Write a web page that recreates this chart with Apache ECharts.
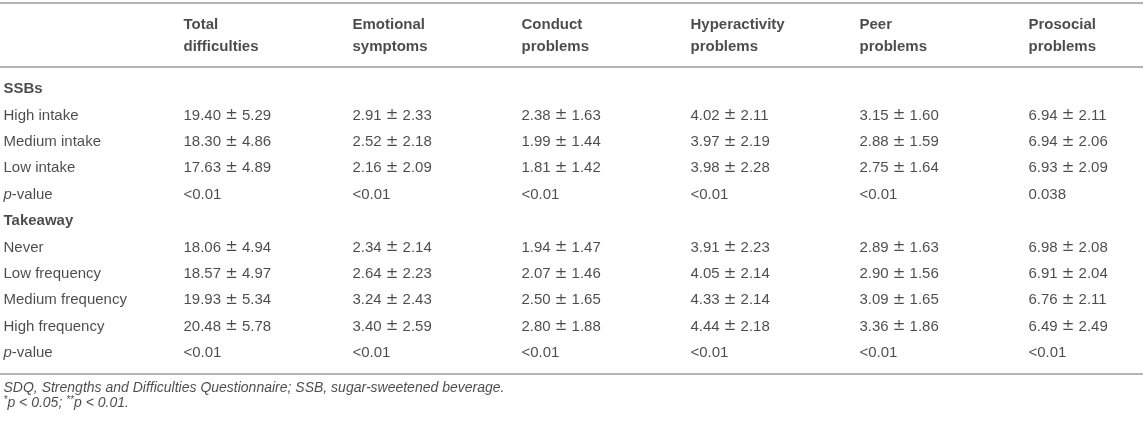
<!DOCTYPE html>
<html>
<head>
<meta charset="utf-8">
<script src="https://cdn.jsdelivr.net/npm/echarts@6/dist/echarts.min.js"></script>
<style>
	html, body { margin: 0; padding: 0; background: #fff; }
	#chart { width: 1143px; height: 421px; }
</style>
</head>
<body>
<div id="chart"></div>
<script>
// table content
var columns = ['Total\ndifficulties', 'Emotional\nsymptoms', 'Conduct\nproblems',
	'Hyperactivity\nproblems', 'Peer\nproblems', 'Prosocial\nproblems'];

var ssbGroups = ['High intake', 'Medium intake', 'Low intake'];
var ssbValues = [
	['19.40 ± 5.29', '2.91 ± 2.33', '2.38 ± 1.63', '4.02 ± 2.11', '3.15 ± 1.60', '6.94 ± 2.11'],
	['18.30 ± 4.86', '2.52 ± 2.18', '1.99 ± 1.44', '3.97 ± 2.19', '2.88 ± 1.59', '6.94 ± 2.06'],
	['17.63 ± 4.89', '2.16 ± 2.09', '1.81 ± 1.42', '3.98 ± 2.28', '2.75 ± 1.64', '6.93 ± 2.09']
];
var ssbPValues = ['<0.01', '<0.01', '<0.01', '<0.01', '<0.01', '0.038'];

var takeawayGroups = ['Never', 'Low frequency', 'Medium frequency', 'High frequency'];
var takeawayValues = [
	['18.06 ± 4.94', '2.34 ± 2.14', '1.94 ± 1.47', '3.91 ± 2.23', '2.89 ± 1.63', '6.98 ± 2.08'],
	['18.57 ± 4.97', '2.64 ± 2.23', '2.07 ± 1.46', '4.05 ± 2.14', '2.90 ± 1.56', '6.91 ± 2.04'],
	['19.93 ± 5.34', '3.24 ± 2.43', '2.50 ± 1.65', '4.33 ± 2.14', '3.09 ± 1.65', '6.76 ± 2.11'],
	['20.48 ± 5.78', '3.40 ± 2.59', '2.80 ± 1.88', '4.44 ± 2.18', '3.36 ± 1.86', '6.49 ± 2.49']
];
var takeawayPValues = ['<0.01', '<0.01', '<0.01', '<0.01', '<0.01', '<0.01'];

var footnotes = [
	'SDQ, Strengths and Difficulties Questionnaire; SSB, sugar-sweetened beverage.',
	'{sup|*}p < 0.05; {sup|**}p < 0.01.'
];

(function () {
	var FONT = '"Liberation Sans", Arial, Helvetica, sans-serif';
	var TEXT = '#1e1e1e';
	// x: column index (1..6), y: row index (0 = SSBs)
	var LABEL_X = -0.065;
	var HEADER_Y = -2.0;
	var RULES = [-3.25, -0.85, 10.78];
	var FOOT_Y = [11.33, 11.90];

	var headerCells = [], groupCells = [], bodyCells = [], footCells = [];
	columns.forEach(function (c, i) { headerCells.push([i + 1, HEADER_Y, c]); });

	function addBlock(title, start, groups, values, pvals) {
		groupCells.push([LABEL_X, start, title]);
		groups.forEach(function (g, r) {
			bodyCells.push([LABEL_X, start + 1 + r, g]);
			values[r].forEach(function (v, c) { bodyCells.push([c + 1, start + 1 + r, v]); });
		});
		var pr = start + 1 + groups.length;
		bodyCells.push([LABEL_X, pr, '{i|p}-value']);
		pvals.forEach(function (v, c) { bodyCells.push([c + 1, pr, v]); });
		return pr + 1;
	}
	var next = addBlock('SSBs', 0, ssbGroups, ssbValues, ssbPValues);
	addBlock('Takeaway', next, takeawayGroups, takeawayValues, takeawayPValues);
	footnotes.forEach(function (f, i) { footCells.push([LABEL_X, FOOT_Y[i], f]); });

	function textSeries(data, font, extra) {
		var label = {
			show: true, position: 'right', distance: 0,
			color: TEXT, fontFamily: FONT,
			// the table sets ± in a wider math glyph
			formatter: function (p) { return p.data[2].replace('±', '{pm|±}'); }
		};
		for (var k in font) label[k] = font[k];
		var s = {
			type: 'scatter', data: data, symbolSize: 1, silent: true,
			itemStyle: { color: 'rgba(0,0,0,0)' }, label: label
		};
		for (var e in extra || {}) s[e] = extra[e];
		return s;
	}

	var richBody = {
		i: { fontStyle: 'italic', fontSize: 15, color: TEXT, fontFamily: FONT },
		pm: { fontSize: 15, color: TEXT, fontFamily: '"DejaVu Sans"' }
	};
	var richFoot = {
		sup: { fontStyle: 'italic', fontSize: 10, color: TEXT, fontFamily: FONT, verticalAlign: 'top', padding: [0, 0, 6, 0] }
	};

	var myChart = echarts.init(document.getElementById('chart'));
	var option = {
		animation: false,
		grid: { left: 0, right: 0, top: 0, bottom: 0 },
		xAxis: { type: 'value', min: -14 / 169, max: 1129 / 169, show: false, splitLine: { show: false } },
		yAxis: { type: 'value', inverse: true, min: -89 / 26.4, max: 332 / 26.4, show: false, splitLine: { show: false } },
		series: [
			textSeries(headerCells, { fontSize: 15, fontWeight: 'bold', lineHeight: 22 }, {
				markLine: {
					silent: true, symbol: 'none', label: { show: false },
					lineStyle: { color: '#b4b4b4', width: 2, type: 'solid' },
					data: RULES.map(function (y) { return { yAxis: y }; })
				}
			}),
			textSeries(groupCells, { fontSize: 15, fontWeight: 'bold' }),
			textSeries(bodyCells, { fontSize: 15, rich: richBody }),
			textSeries(footCells, { fontSize: 14, fontStyle: 'italic', rich: richFoot })
		]
	};
	myChart.setOption(option);
})();
</script>
</body>
</html>
